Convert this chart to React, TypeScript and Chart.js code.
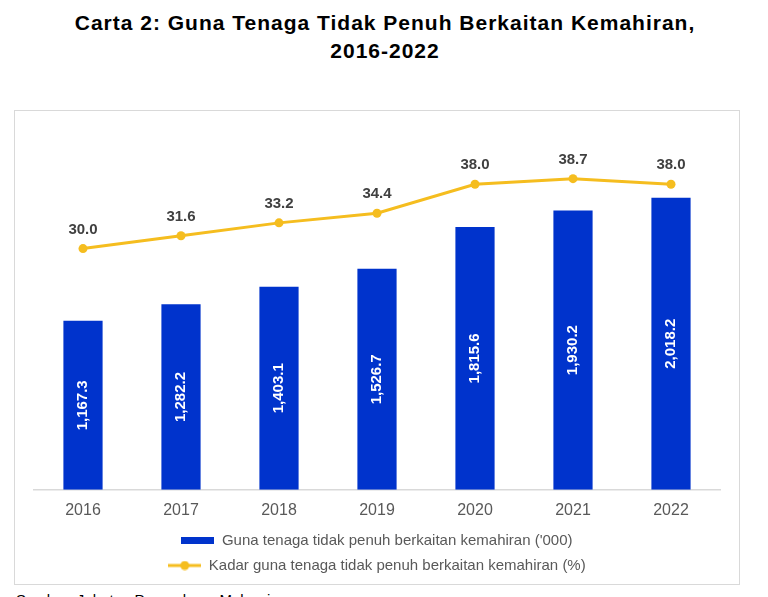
import React, { useEffect, useRef } from 'react';
import { Chart, registerables, Plugin } from 'chart.js';

Chart.register(...registerables);

// Data
const years = ['2016', '2017', '2018', '2019', '2020', '2021', '2022'];
const underemployed = [1167.3, 1282.2, 1403.1, 1526.7, 1815.6, 1930.2, 2018.2];
const rate = [30.0, 31.6, 33.2, 34.4, 38.0, 38.7, 38.0];

const barLabel = "Guna tenaga tidak penuh berkaitan kemahiran ('000)";
const lineLabel = 'Kadar guna tenaga tidak penuh berkaitan kemahiran (%)';

const BLUE = '#0033CC';
const YELLOW = '#F5BD1F';
const FONT = '"Liberation Sans", Arial, sans-serif';

// legend icons, drawn on small canvases
function barIcon() {
    const c = document.createElement('canvas');
    c.width = 33;
    c.height = 7;
    const ctx = c.getContext('2d')!;
    ctx.fillStyle = BLUE;
    ctx.fillRect(0, 0, 33, 7);
    return c;
}

function lineIcon() {
    const c = document.createElement('canvas');
    c.width = 33;
    c.height = 10;
    const ctx = c.getContext('2d')!;
    ctx.strokeStyle = YELLOW;
    ctx.lineWidth = 3;
    ctx.beginPath();
    ctx.moveTo(0, 5);
    ctx.lineTo(33, 5);
    ctx.stroke();
    ctx.fillStyle = YELLOW;
    ctx.beginPath();
    ctx.arc(16.5, 5, 4.5, 0, Math.PI * 2);
    ctx.fill();
    return c;
}

const fmt = (v: number) =>
    v.toLocaleString('en-US', { minimumFractionDigits: 1, maximumFractionDigits: 1 });

// value labels: rotated white text inside bars, dark text above points
const valueLabels: Plugin = {
    id: 'valueLabels',
    afterDatasetsDraw(chart) {
        const ctx = chart.ctx;
        ctx.save();
        const barMeta = chart.getDatasetMeta(0);
        barMeta.data.forEach((el: any, i) => {
            const { x, y, base } = el.getProps(['x', 'y', 'base'], true);
            ctx.save();
            ctx.translate(x, (y + base) / 2);
            ctx.rotate(-Math.PI / 2);
            ctx.font = `bold 15px ${FONT}`;
            ctx.fillStyle = '#ffffff';
            ctx.textAlign = 'center';
            ctx.textBaseline = 'middle';
            ctx.fillText(fmt(underemployed[i]), 0, 0);
            ctx.restore();
        });
        const lineMeta = chart.getDatasetMeta(1);
        lineMeta.data.forEach((el: any, i) => {
            const { x, y } = el.getProps(['x', 'y'], true);
            ctx.font = `bold 15px ${FONT}`;
            ctx.fillStyle = '#404040';
            ctx.textAlign = 'center';
            ctx.textBaseline = 'middle';
            ctx.fillText(rate[i].toFixed(1), x, y - 19);
        });
        ctx.restore();
    },
};

const ComboChart: React.FC = () => {
    const ref = useRef<HTMLCanvasElement>(null);

    useEffect(() => {
        if (!ref.current) return;
        const bIcon = barIcon();
        const lIcon = lineIcon();

        const chart = new Chart(ref.current, {
            type: 'bar',
            data: {
                labels: years,
                datasets: [
                    {
                        type: 'bar',
                        label: barLabel,
                        data: underemployed,
                        backgroundColor: BLUE,
                        yAxisID: 'y',
                        categoryPercentage: 1,
                        barPercentage: 0.4,
                        order: 2,
                    },
                    {
                        type: 'line',
                        label: lineLabel,
                        data: rate,
                        borderColor: YELLOW,
                        backgroundColor: YELLOW,
                        borderWidth: 3,
                        pointRadius: 4.5,
                        pointHoverRadius: 4.5,
                        pointBackgroundColor: YELLOW,
                        pointBorderWidth: 0,
                        yAxisID: 'y1',
                        order: 1,
                    },
                ],
            },
            options: {
                animation: false,
                responsive: true,
                maintainAspectRatio: false,
                layout: { padding: { left: 19, right: 19, top: 17, bottom: 1 } },
                scales: {
                    x: {
                        grid: { display: false },
                        border: { display: true, color: '#d9d9d9', width: 1.5 },
                        ticks: {
                            color: '#595959',
                            font: { family: FONT, size: 16 },
                            padding: 3,
                        },
                    },
                    y: { display: false, min: 0, max: 2500 },
                    y1: { display: false, min: 0, max: 45 },
                },
                plugins: {
                    tooltip: { enabled: false },
                    legend: {
                        position: 'bottom',
                        labels: {
                            color: '#595959',
                            font: { family: FONT, size: 15 },
                            usePointStyle: true,
                            pointStyleWidth: 33,
                            padding: 10,
                            generateLabels: () => [
                                { text: barLabel, pointStyle: bIcon, datasetIndex: 0, fontColor: '#595959', lineWidth: 0, strokeStyle: 'transparent', fillStyle: BLUE } as any,
                                { text: lineLabel, pointStyle: lIcon, datasetIndex: 1, fontColor: '#595959', lineWidth: 0, strokeStyle: 'transparent', fillStyle: YELLOW } as any,
                            ],
                        },
                    },
                },
            },
            plugins: [valueLabels],
        });

        return () => {
            chart.destroy();
        };
    }, []);

    return <canvas ref={ref}></canvas>;
};

export default function App() {
    return (
        <div style={{ position: 'absolute', left: 0, top: 0, width: 768, height: 597, overflow: 'hidden', background: '#fff', fontFamily: FONT }}>
            <div style={{ position: 'absolute', left: 0, top: 9, width: 770, textAlign: 'center', fontWeight: 'bold', fontSize: 21, lineHeight: '28px', letterSpacing: 1, color: '#000' }}>
                Carta 2: Guna Tenaga Tidak Penuh Berkaitan Kemahiran,
                <br />
                2016-2022
            </div>
            <div style={{ position: 'absolute', left: 14, top: 110, width: 724, height: 473, border: '1px solid #d9d9d9' }}>
                <ComboChart />
            </div>
            <div style={{ position: 'absolute', left: 16, top: 591, fontSize: 15, lineHeight: '17px', color: '#000' }}>
                Sumber: Jabatan Perangkaan Malaysia
            </div>
        </div>
    );
}
